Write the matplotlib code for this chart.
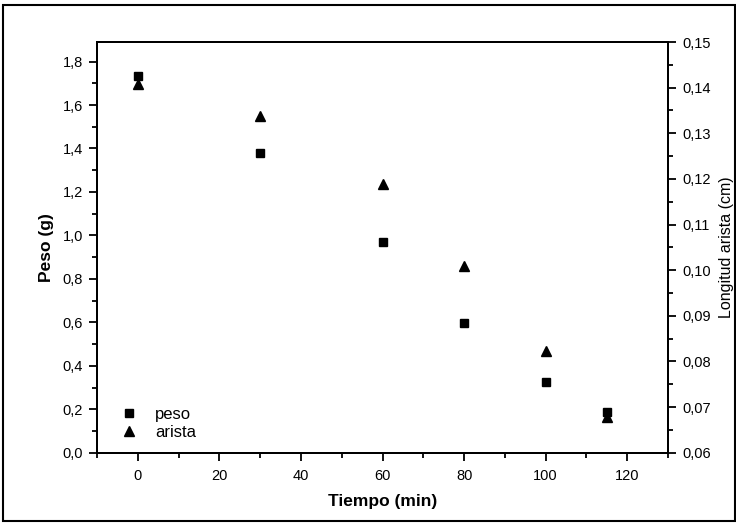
import matplotlib
matplotlib.use("Agg")
import matplotlib.pyplot as plt
from matplotlib.ticker import MultipleLocator, FuncFormatter
from matplotlib.lines import Line2D
from matplotlib.patches import Rectangle

plt.rcParams['font.family'] = ['Liberation Sans', 'DejaVu Sans']

tiempo = [0, 30, 60, 80, 100, 115]
peso = [1.733, 1.38, 0.968, 0.596, 0.327, 0.185]
arista = [0.1408, 0.1338, 0.1188, 0.1009, 0.0822, 0.0678]

fig = plt.figure(figsize=(7.36, 5.23), dpi=100)
ax = fig.add_axes([97/736, 1-452.7/523, (668-97)/736, (452.7-42)/523])
ax2 = ax.twinx()

ax.plot(tiempo, peso, linestyle='none', marker='s', color='black', markersize=5.8, label='peso')
ax2.plot(tiempo, arista, linestyle='none', marker='^', color='black', markersize=7.5, label='arista')

ax.set_xlim(-10, 130)
ax.set_ylim(0, 1.89)
ax2.set_ylim(0.06, 0.15)

comma = lambda fmt: FuncFormatter(lambda v, p: (fmt % v).replace('.', ','))
ax.xaxis.set_major_locator(MultipleLocator(20))
ax.xaxis.set_minor_locator(MultipleLocator(10))
ax.yaxis.set_major_locator(MultipleLocator(0.2))
ax.yaxis.set_minor_locator(MultipleLocator(0.1))
ax.yaxis.set_major_formatter(comma('%.1f'))
ax2.yaxis.set_major_locator(MultipleLocator(0.01))
ax2.yaxis.set_minor_locator(MultipleLocator(0.005))
ax2.yaxis.set_major_formatter(comma('%.2f'))

for a in (ax, ax2):
    a.tick_params(which='major', direction='out', length=6, width=1.3, labelsize=10.5, pad=4)
    a.tick_params(which='minor', direction='out', length=3.5, width=1.3)
    for s in a.spines.values():
        s.set_linewidth(1.4)
ax.tick_params(axis='x', pad=6)

ax.set_xlabel('Tiempo (min)', fontsize=12.5, fontweight='bold', labelpad=8)
ax.set_ylabel('Peso (g)', fontsize=12.5, fontweight='bold', labelpad=6)
ax2.set_ylabel('Longitud arista (cm)', fontsize=11.5, labelpad=6)

handles = [Line2D([], [], linestyle='none', marker='s', color='black', markersize=5.8),
           Line2D([], [], linestyle='none', marker='^', color='black', markersize=7.5)]
ax.legend(handles, ['peso', 'arista'], loc='lower left', frameon=False, fontsize=12,
          handletextpad=0.6, labelspacing=0.15, bbox_to_anchor=(0.0, -0.005))

fig.patches.append(Rectangle((0.004, 0.003), 0.994, 0.988, transform=fig.transFigure,
                             fill=False, edgecolor='black', linewidth=1.5))

fig.savefig('out.png', dpi=100)
